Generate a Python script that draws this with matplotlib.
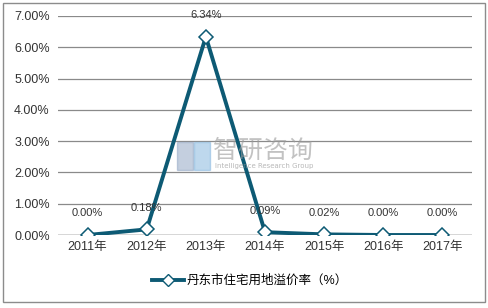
import matplotlib.pyplot as plt
from matplotlib.patches import Rectangle
from matplotlib.lines import Line2D

plt.rcParams['font.family'] = ['Liberation Sans', 'Noto Sans CJK SC', 'DejaVu Sans']

anos = ['2011年', '2012年', '2013年', '2014年', '2015年', '2016年', '2017年']
taxa = [0.00, 0.18, 6.34, 0.09, 0.02, 0.00, 0.00]
rotulos = ['0.00%', '0.18%', '6.34%', '0.09%', '0.02%', '0.00%', '0.00%']
yticks = [0, 1, 2, 3, 4, 5, 6, 7]

cor = '#0d5a74'

fig = plt.figure(figsize=(4.88, 3.08), dpi=100)
# moldura externa
fig.patches.append(Rectangle((3 / 488, 6 / 308), 482 / 488, 299 / 308, transform=fig.transFigure,
                             fill=False, edgecolor='#8c8c8c', linewidth=1))
ax = fig.add_axes([58 / 488, 1 - 235 / 308, 414 / 488, 219 / 308])

x = list(range(len(anos)))
ax.plot(x, taxa, color=cor, linewidth=2.8, marker='D', markersize=7,
        markerfacecolor='white', markeredgecolor=cor, markeredgewidth=1.1, zorder=5)

for i, (v, r) in enumerate(zip(taxa, rotulos)):
    ax.annotate(r, (i, v), xytext=(0, 12), textcoords='offset points',
                ha='center', va='bottom', fontsize=8, color='#333333', zorder=6)

ax.set_xlim(-0.5, len(anos) - 0.5)
ax.set_ylim(0, 7)
ax.set_yticks(yticks)
ax.set_yticklabels(['%.2f%%' % t for t in yticks], fontsize=9, color='#333333')
ax.set_xticks(x)
ax.set_xticklabels(anos, fontsize=9, color='#333333')
ax.tick_params(length=0, pad=6)
ax.tick_params(axis='x', pad=4)

for t in yticks[1:]:
    ax.axhline(t, color='#8a8a8a', linewidth=0.9, zorder=1)
ax.axhline(0, color='#333333', linewidth=1, zorder=2)
for s in ax.spines.values():
    s.set_visible(False)

# marca d'agua
fig.text(213 / 488, 1 - 151 / 308, '智研咨询', fontsize=18, color='#9a9a9a', alpha=0.6, va='center',
         family='Noto Sans CJK SC')
fig.text(215 / 488, 1 - 166 / 308, 'Intelligence Research Group', fontsize=5, color='#9a9a9a',
         alpha=0.7, va='center', family='DejaVu Sans')
fig.patches.append(Rectangle((177 / 488, 1 - 170 / 308), 16 / 488, 28 / 308, transform=fig.transFigure,
                             color='#8aa0c0', alpha=0.5, zorder=0))
fig.patches.append(Rectangle((194 / 488, 1 - 170 / 308), 16 / 488, 28 / 308, transform=fig.transFigure,
                             color='#7fb3dd', alpha=0.5, zorder=0))

handle = Line2D([], [], color=cor, linewidth=2.8, marker='D', markersize=6,
                markerfacecolor='white', markeredgecolor=cor)
fig.legend([handle], ['丹东市住宅用地溢价率（%）'], loc='center', bbox_to_anchor=(250 / 488, 1 - 281 / 308),
           frameon=False, fontsize=9, handlelength=2.6, handletextpad=0.2)

fig.savefig('out.png', dpi=100)
